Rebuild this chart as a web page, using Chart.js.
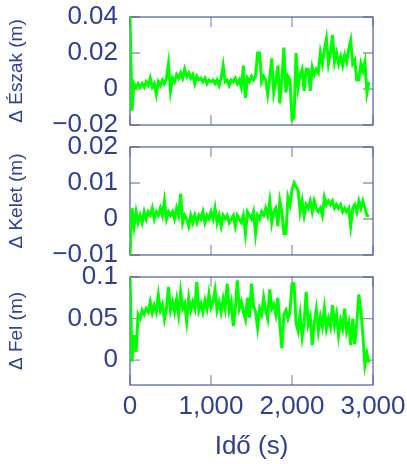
<!DOCTYPE html>
<html>
<head>
<meta charset="utf-8">
<script src="https://cdn.jsdelivr.net/npm/chart.js@4"></script>
<style>
    html, body { margin: 0; padding: 0; background: #fff; }
    #wrap { position: relative; width: 407px; height: 464px; overflow: hidden; }
    #wrap canvas { position: absolute; left: 0; }
</style>
</head>
<body>
<div id="wrap">
    <canvas id="cEszak" width="407" height="142" style="top:0"></canvas>
    <canvas id="cKelet" width="407" height="142" style="top:130px"></canvas>
    <canvas id="cFel" width="407" height="204" style="top:260px"></canvas>
</div>
<script>
// Idő (s)
const times = [
    0, 25, 50, 75, 100, 125, 150, 175, 200, 225,
    250, 275, 300, 325, 350, 375, 400, 425, 450, 475,
    500, 525, 550, 575, 600, 625, 650, 675, 700, 725,
    750, 775, 800, 825, 850, 875, 900, 925, 950, 975,
    1000, 1025, 1050, 1075, 1100, 1125, 1150, 1175, 1200, 1225,
    1250, 1275, 1300, 1325, 1350, 1375, 1400, 1425, 1450, 1475,
    1500, 1525, 1550, 1575, 1600, 1625, 1650, 1675, 1700, 1725,
    1750, 1775, 1800, 1825, 1850, 1875, 1900, 1925, 1950, 1975,
    2000, 2025, 2050, 2075, 2100, 2125, 2150, 2175, 2200, 2225,
    2250, 2275, 2300, 2325, 2350, 2375, 2400, 2425, 2450, 2475,
    2500, 2525, 2550, 2575, 2600, 2625, 2650, 2675, 2700, 2725,
    2750, 2775, 2800, 2825, 2850, 2875, 2900, 2925, 2950
];

// Δ Észak (m)
const deltaEszak = [
    0.040, -0.012, 0.003, 0.001, 0.003, 0.001, 0.003, 0.001, 0.004, 0.002,
    0.006, 0.001, 0.003, -0.003, 0.004, 0.002, 0.005, 0.003, 0.006, 0.014,
    -0.001, 0.006, 0.004, 0.008, 0.006, 0.009, 0.006, 0.011, 0.007, 0.009,
    0.006, 0.008, 0.003, 0.007, 0.005, 0.006, 0.004, 0.006, 0.003, 0.005,
    0.004, 0.005, 0.003, 0.005, 0.002, 0.006, 0.013, 0.004, 0.005, 0.002,
    0.005, 0.004, 0.006, 0.003, 0.005, 0.001, 0.013, -0.005, 0.006, 0.004,
    0.007, 0.005, 0.007, 0.020, 0.020, 0.004, 0.007, 0.005, -0.003, 0.006,
    0.017, -0.002, 0.004, 0.013, -0.008, 0.006, 0.023, -0.002, 0.007, 0.005,
    -0.017, -0.016, 0.020, 0.001, 0.008, 0.011, -0.001, 0.011, 0.011, -0.001,
    0.012, 0.008, 0.011, 0.009, 0.020, 0.014, 0.022, 0.028, 0.014, 0.020,
    0.030, 0.015, 0.020, 0.014, 0.018, 0.013, 0.019, 0.015, 0.022, 0.027,
    0.014, 0.016, 0.005, 0.005, 0.014, 0.010, 0.015, -0.002, 0.004
];

// Δ Kelet (m)
const deltaKelet = [
    -0.010, 0.003, -0.002, 0.002, -0.001, 0.001, -0.001, 0.002, 0.000, 0.002,
    0.001, 0.003, 0.000, 0.002, 0.001, 0.003, 0.001, 0.005, 0.000, 0.002,
    0.001, 0.002, 0.000, 0.003, 0.001, 0.007, -0.001, 0.001, 0.000, -0.002,
    0.001, -0.001, 0.001, -0.001, 0.001, 0.000, 0.002, -0.001, 0.001, 0.000,
    0.002, 0.000, 0.003, -0.001, 0.001, -0.002, 0.001, 0.000, 0.001, -0.001,
    0.000, 0.001, -0.002, 0.001, 0.000, -0.001, 0.001, -0.004, 0.002, 0.001,
    0.000, 0.002, -0.004, 0.001, 0.000, 0.002, 0.001, 0.003, 0.001, 0.005,
    -0.001, 0.002, 0.003, -0.002, 0.005, 0.002, -0.004, -0.004, 0.006, 0.004,
    0.008, 0.010, 0.009, 0.008, 0.002, 0.005, 0.001, 0.004, 0.003, 0.005,
    0.002, 0.005, 0.003, 0.002, 0.003, 0.001, 0.006, 0.004, 0.005, 0.004,
    0.005, 0.003, 0.004, 0.003, 0.004, 0.002, 0.003, 0.002, 0.003, -0.002,
    0.003, 0.004, 0.002, 0.005, 0.003, 0.005, 0.003, 0.001, 0.001
];

// Δ Fel (m)
const deltaFel = [
    0.101, -0.002, 0.030, 0.010, 0.055, 0.050, 0.060, 0.055, 0.062, 0.058,
    0.070, 0.057, 0.066, 0.058, 0.078, 0.060, 0.067, 0.049, 0.062, 0.088,
    0.060, 0.070, 0.058, 0.073, 0.055, 0.082, 0.062, 0.068, 0.047, 0.075,
    0.060, 0.070, 0.062, 0.094, 0.060, 0.068, 0.058, 0.072, 0.062, 0.080,
    0.063, 0.070, 0.084, 0.060, 0.070, 0.058, 0.074, 0.062, 0.092, 0.060,
    0.070, 0.041, 0.062, 0.096, 0.062, 0.070, 0.058, 0.049, 0.075, 0.051,
    0.092, 0.065, 0.058, 0.039, 0.062, 0.055, 0.075, 0.060, 0.050, 0.085,
    0.062, 0.067, 0.055, 0.075, 0.043, 0.014, 0.055, 0.060, 0.050, 0.058,
    0.092, 0.092, 0.045, 0.035, 0.055, 0.028, 0.045, 0.082, 0.043, 0.052,
    0.018, 0.045, 0.061, 0.035, 0.052, 0.040, 0.062, 0.038, 0.050, 0.040,
    0.066, 0.042, 0.055, 0.030, 0.048, 0.038, 0.062, 0.035, 0.045, 0.018,
    0.050, 0.019, 0.045, 0.079, 0.060, 0.030, -0.006, 0.008, -0.003
];

// Tick labels
const timeTicks = [0, 1000, 2000, 3000];
const eszakTicks = [-0.02, 0, 0.02, 0.04];
const keletTicks = [-0.01, 0, 0.01, 0.02];
const felTicks = [0, 0.05, 0.1];

const TEXT_COLOR = '#2e4191';
const FRAME_COLOR = '#4b5ca6';
const TICK_COLOR = '#9a9a9a';
const LINE_COLOR = '#00ff00';
const FONT = 'Liberation Sans, Arial, sans-serif';

// Box around the plot area with inward ticks on all four sides
const framePlugin = {
    id: 'frame',
    beforeDatasetsDraw: (chart) => {
        const { ctx, chartArea: a, scales } = chart;
        const len = 10;
        ctx.save();
        ctx.strokeStyle = TICK_COLOR;
        ctx.lineWidth = 1.3;
        ctx.beginPath();
        scales.x.ticks.forEach((t) => {
            const px = scales.x.getPixelForValue(t.value);
            ctx.moveTo(px, a.top);
            ctx.lineTo(px, a.top + len);
            ctx.moveTo(px, a.bottom);
            ctx.lineTo(px, a.bottom - len);
        });
        scales.y.ticks.forEach((t) => {
            const py = scales.y.getPixelForValue(t.value);
            ctx.moveTo(a.left, py);
            ctx.lineTo(a.left + len, py);
            ctx.moveTo(a.right, py);
            ctx.lineTo(a.right - len, py);
        });
        ctx.stroke();
        ctx.strokeStyle = FRAME_COLOR;
        ctx.lineWidth = 1.2;
        ctx.strokeRect(a.left, a.top, a.right - a.left, a.bottom - a.top);
        ctx.restore();
    },
};

const fmtValue = (v) => String(Math.round(v * 1000) / 1000).replace('-', '\u2212');

function makePanel(id, values, yTicks, yMin, yMax, yTitle, showX) {
    return new Chart(document.getElementById(id), {
        type: 'line',
        data: {
            datasets: [
                {
                    data: times.map((t, i) => ({ x: t, y: values[i] })),
                    borderColor: LINE_COLOR,
                    borderWidth: 3,
                    pointRadius: 0,
                    tension: 0,
                    fill: false,
                },
            ],
        },
        options: {
            responsive: false,
            animation: false,
            events: [],
            layout: { padding: { top: 17, right: 34, bottom: showX ? 0 : 17, left: 0 } },
            plugins: { legend: { display: false }, tooltip: { enabled: false } },
            scales: {
                x: {
                    type: 'linear',
                    min: 0,
                    max: 3000,
                    afterBuildTicks: (s) => {
                        s.ticks = timeTicks.map((v) => ({ value: v }));
                    },
                    afterFit: (s) => {
                        s.height = showX ? 79 : 0;
                        // labels may overhang; the layout padding already leaves room
                        s.paddingLeft = 0;
                        s.paddingRight = 0;
                    },
                    grid: { display: false, drawTicks: false },
                    border: { display: false },
                    ticks: {
                        display: showX,
                        padding: 6,
                        color: TEXT_COLOR,
                        font: { family: FONT, size: 26 },
                        maxRotation: 0,
                        callback: (v) => v.toLocaleString('en-US'),
                    },
                    title: {
                        display: showX,
                        text: 'Idő (s)',
                        color: TEXT_COLOR,
                        font: { family: FONT, size: 26 },
                        padding: { top: 0, bottom: 2 },
                    },
                },
                y: {
                    min: yMin,
                    max: yMax,
                    afterBuildTicks: (s) => {
                        s.ticks = yTicks.map((v) => ({ value: v }));
                    },
                    afterFit: (s) => {
                        s.width = 130;
                        s.paddingTop = 0;
                        s.paddingBottom = 0;
                    },
                    grid: { display: false, drawTicks: false },
                    border: { display: false },
                    ticks: {
                        padding: 12,
                        color: TEXT_COLOR,
                        font: { family: FONT, size: 26 },
                        callback: fmtValue,
                    },
                    title: {
                        display: true,
                        text: yTitle,
                        color: TEXT_COLOR,
                        font: { family: FONT, size: 19 },
                        padding: { top: 5, bottom: 0 },
                    },
                },
            },
        },
        plugins: [framePlugin],
    });
}

makePanel('cEszak', deltaEszak, eszakTicks, -0.02, 0.04, 'Δ Észak (m)', false);
makePanel('cKelet', deltaKelet, keletTicks, -0.01, 0.02, 'Δ Kelet (m)', false);
makePanel('cFel', deltaFel, felTicks, -0.03, 0.1, 'Δ Fel (m)', true);
</script>
</body>
</html>
